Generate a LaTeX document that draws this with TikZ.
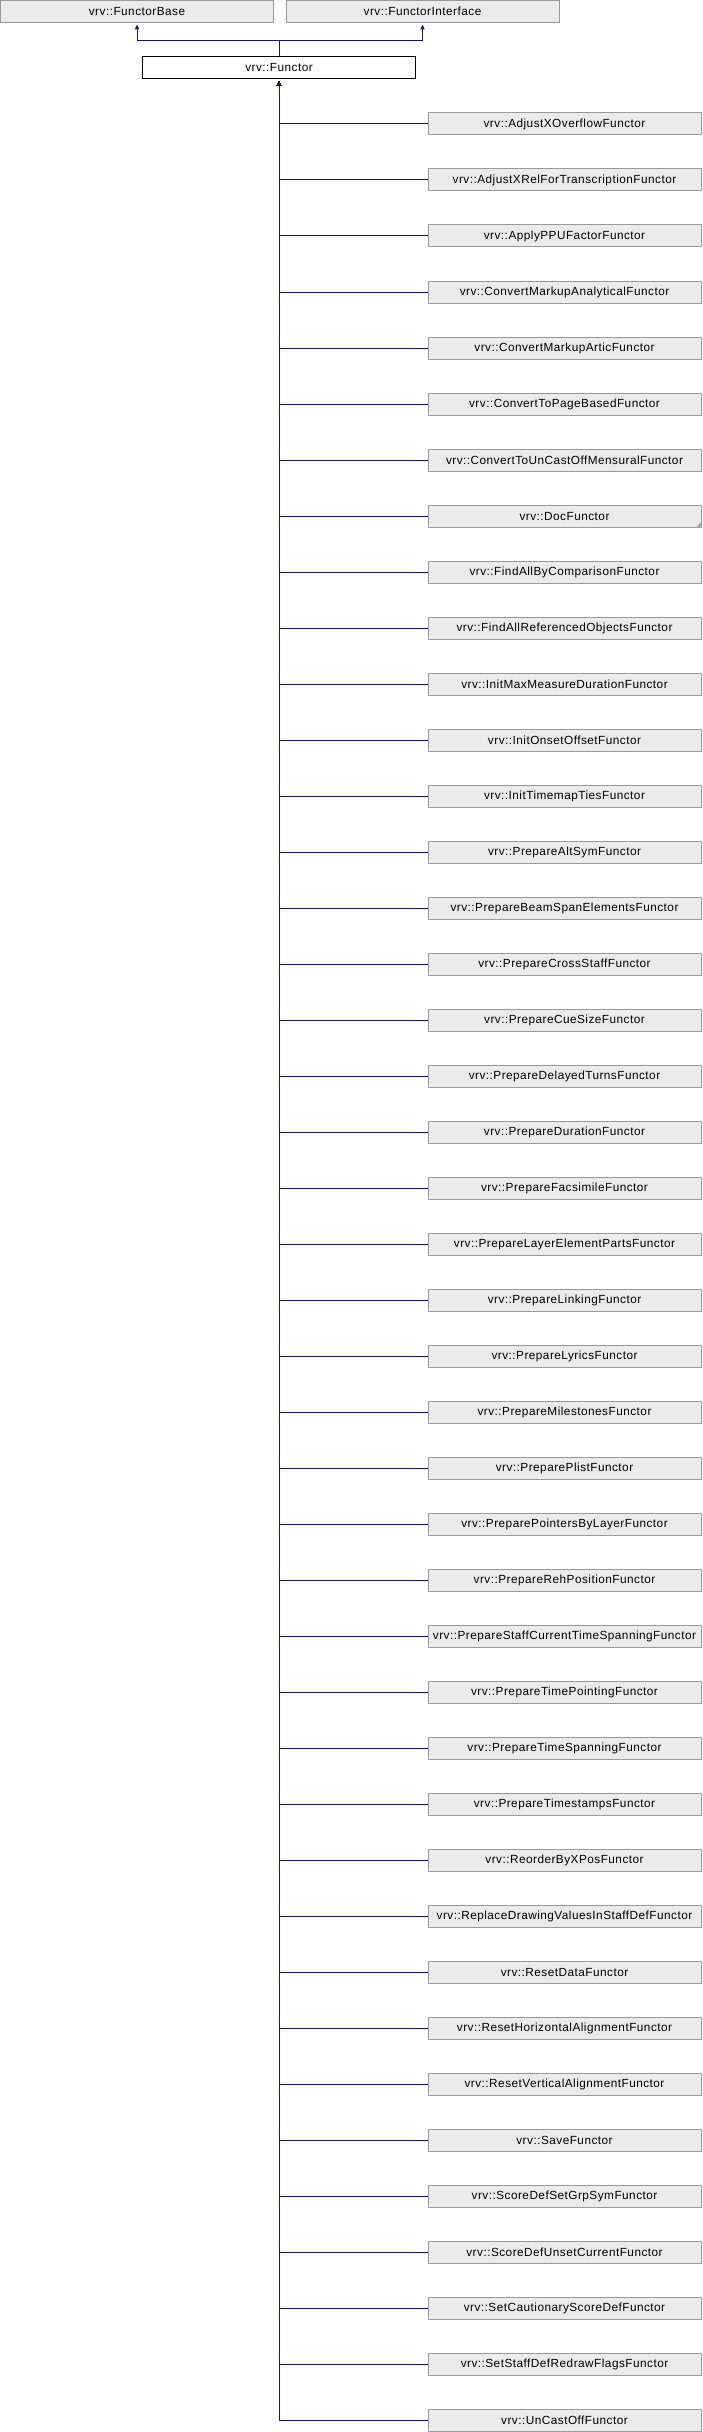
\documentclass[tikz,border=0pt]{standalone}
\usepackage{fontspec}
\setmainfont{Liberation Sans}
\newfontfamily\dotfont[LetterSpace=4]{Liberation Sans}
\usepackage{xcolor}
\usepackage{tikz}
\usetikzlibrary{arrows.meta}
\usetikzlibrary{calc}

\definecolor{edgeblue}{RGB}{22,22,138}
\definecolor{boxfill}{RGB}{235,235,235}
\definecolor{boxline}{RGB}{153,153,153}

\tikzset{
	classbox/.style={draw=boxline,fill=boxfill,line width=1pt,minimum width=273pt,minimum height=22pt,inner sep=0pt,font=\dotfont\fontsize{11.8}{13}\selectfont},
	mainbox/.style={classbox,draw=black,fill=white},
	inherit/.style={edgeblue,line width=1pt,{Triangle[length=4.7pt,width=4.2pt]}-,shorten <=1.6pt}
}

\begin{document}
\begin{tikzpicture}[x=1pt,y=1pt]
		\useasboundingbox (0,0) rectangle (702,-2432);
		
		% base classes
		\node[classbox] (base) at (137,-11.5) {vrv::FunctorBase};
		\node[classbox] (iface) at (422.5,-11.5) {vrv::FunctorInterface};
		\node[mainbox] (functor) at (279,-68) {vrv::Functor};
		\coordinate (join) at (279,-40.3);
		\draw[inherit] (base.south) |- (join) -- (functor.north);
		\draw[inherit] (iface.south) |- (join) -- (functor.north);
		
		% derived classes
		\foreach \name [count=\i] in {AdjustXOverflowFunctor,AdjustXRelForTranscriptionFunctor,ApplyPPUFactorFunctor,ConvertMarkupAnalyticalFunctor,ConvertMarkupArticFunctor,ConvertToPageBasedFunctor,ConvertToUnCastOffMensuralFunctor,DocFunctor,FindAllByComparisonFunctor,FindAllReferencedObjectsFunctor,InitMaxMeasureDurationFunctor,InitOnsetOffsetFunctor,InitTimemapTiesFunctor,PrepareAltSymFunctor,PrepareBeamSpanElementsFunctor,PrepareCrossStaffFunctor,PrepareCueSizeFunctor,PrepareDelayedTurnsFunctor,PrepareDurationFunctor,PrepareFacsimileFunctor,PrepareLayerElementPartsFunctor,PrepareLinkingFunctor,PrepareLyricsFunctor,PrepareMilestonesFunctor,PreparePlistFunctor,PreparePointersByLayerFunctor,PrepareRehPositionFunctor,PrepareStaffCurrentTimeSpanningFunctor,PrepareTimePointingFunctor,PrepareTimeSpanningFunctor,PrepareTimestampsFunctor,ReorderByXPosFunctor,ReplaceDrawingValuesInStaffDefFunctor,ResetDataFunctor,ResetHorizontalAlignmentFunctor,ResetVerticalAlignmentFunctor,SaveFunctor,ScoreDefSetGrpSymFunctor,ScoreDefUnsetCurrentFunctor,SetCautionaryScoreDefFunctor,SetStaffDefRedrawFlagsFunctor,UnCastOffFunctor}{
			\node[classbox] (c\i) at (564.5,-68-56*\i) {vrv::\name};
			\draw[inherit] (functor.south) |- (c\i.west);
		}
		
		% DocFunctor has more derived classes
		\fill[boxline] ($(c8.south east)+(-1,1)$) -- ++(-4,0) -- ++(4,4) -- cycle;
	\end{tikzpicture}
\end{document}
